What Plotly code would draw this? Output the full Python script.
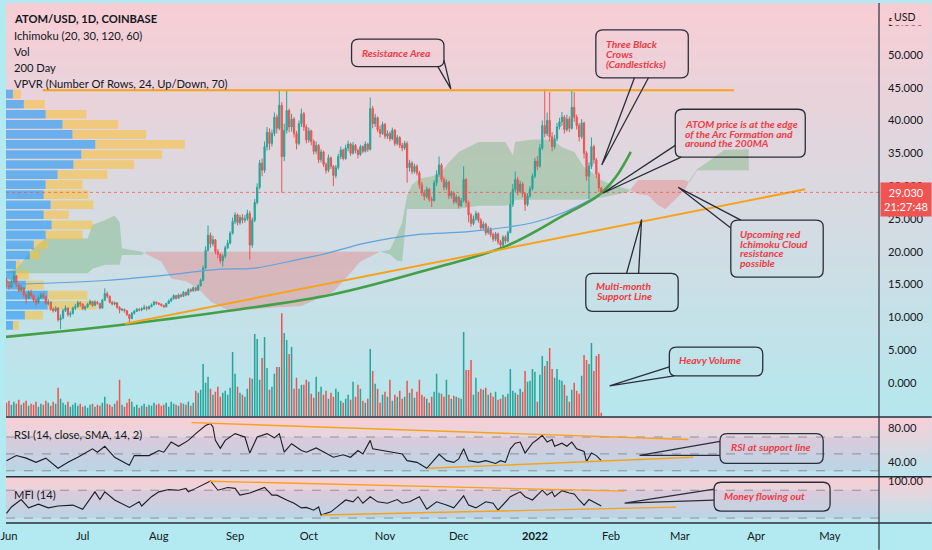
import pandas as pd
import plotly.graph_objects as go

# ---------------- data ----------------
BASE = pd.Timestamp("2021-06-01")
FIRST_DATE = "2021-05-31"
first_open = 15.6

close = [
    15.2, 14.6, 15.4, 16.3, 15.0, 14.1, 14.5, 13.4, 12.9, 13.8,
    13.3, 12.6, 12.2, 13.0, 13.4, 13.1, 12.1, 12.3, 11.2, 11.0,
    11.4, 9.6, 9.9, 11.0, 11.4, 10.4, 10.6, 11.4, 11.6, 12.2,
    12.0, 11.3, 11.6, 12.0, 12.4, 11.8, 12.3, 12.1, 11.4, 12.6,
    13.6, 13.2, 12.3, 12.0, 12.2, 11.5, 11.1, 11.2, 11.0, 10.4,
    9.8, 10.6, 10.9, 11.2, 11.1, 11.3, 11.5, 11.3, 11.6, 11.9,
    12.3, 12.1, 12.0, 11.8, 11.6, 12.1, 12.5, 12.8, 13.3, 12.9,
    13.4, 13.2, 13.8, 13.4, 14.2, 14.0, 14.5, 14.1, 14.8, 15.6,
    17.5, 20.2, 22.5, 21.2, 21.8, 20.0, 19.6, 18.6, 19.3, 20.6,
    21.3, 22.8, 24.6, 25.6, 24.4, 25.2, 24.8, 25.0, 25.8, 21.0,
    24.8, 27.5, 29.8, 33.5, 32.4, 36.0, 38.2, 36.5, 38.0, 40.5,
    38.8, 42.3, 34.5, 38.5, 41.5, 39.0, 40.2, 38.0, 36.5, 39.5,
    41.0, 39.0, 37.0, 38.4, 36.8, 35.3, 36.2, 34.0, 35.2, 33.3,
    32.4, 34.3, 33.0, 31.6, 32.8, 34.5, 35.5, 34.2, 35.8, 36.4,
    35.0, 36.2, 35.4, 34.8, 36.0, 35.3, 36.4, 35.6, 41.8, 39.5,
    40.4, 38.6, 38.0, 39.4, 37.6, 38.0, 37.2, 38.5, 36.5, 37.4,
    36.2, 35.8, 36.5, 32.8, 33.5, 32.2, 33.0, 32.0, 30.2, 29.0,
    28.4, 29.5, 28.0, 27.8, 30.5, 31.8, 33.2, 31.0, 29.8, 30.6,
    28.5, 28.9, 27.6, 28.3, 27.0, 27.8, 31.0, 27.5, 25.6, 24.3,
    25.0, 25.8, 24.8, 23.6, 24.2, 22.9, 23.5, 22.6, 21.9, 22.7,
    21.5, 21.0, 22.2, 21.6, 22.9, 27.2, 29.5, 31.0, 29.2, 30.3,
    28.8, 27.2, 28.5, 29.6, 31.5, 33.8, 33.0, 35.8, 39.2, 38.0,
    40.0, 37.5, 36.0, 37.2, 39.0, 39.8, 40.5, 38.6, 40.2, 38.8,
    42.0, 40.5, 39.2, 37.5, 39.6, 35.0, 31.5, 33.0, 36.0, 34.0,
    31.8, 29.7, 29.03,
]
high = [
    16.0, 15.5, 15.8, 17.0, 16.4, 15.2, 14.9, 14.6, 13.6, 14.1,
    14.2, 13.5, 12.8, 13.2, 13.7, 13.8, 13.3, 12.7, 12.4, 11.5,
    11.7, 11.5, 10.4, 11.3, 11.8, 11.5, 10.9, 11.6, 12.0, 12.5,
    12.4, 12.1, 11.8, 12.2, 12.7, 12.5, 12.6, 12.5, 12.2, 12.8,
    14.4, 13.9, 13.3, 12.5, 12.4, 12.3, 11.7, 11.4, 11.3, 11.1,
    10.5, 10.8, 11.1, 11.4, 11.4, 11.5, 11.9, 11.7, 11.8, 12.1,
    12.5, 12.4, 12.3, 12.1, 11.9, 12.2, 12.7, 13.0, 13.5, 13.4,
    13.6, 13.6, 14.0, 13.9, 14.4, 14.4, 14.7, 14.6, 15.0, 15.9,
    17.9, 20.8, 24.0, 22.9, 22.4, 21.9, 20.4, 19.8, 19.6, 20.9,
    21.8, 23.1, 25.2, 26.0, 25.8, 25.6, 25.7, 25.6, 26.4, 26.2,
    25.2, 28.0, 30.4, 34.0, 34.2, 36.8, 39.0, 38.8, 38.6, 41.2,
    40.9, 44.7, 42.8, 39.5, 44.5, 41.8, 41.0, 40.5, 38.4, 40.0,
    41.8, 41.3, 39.4, 38.9, 38.6, 37.1, 36.8, 36.4, 35.6, 35.4,
    33.6, 34.8, 34.5, 33.2, 33.2, 34.9, 36.0, 35.7, 36.3, 36.9,
    36.6, 36.7, 36.4, 35.7, 36.3, 36.2, 36.8, 36.6, 43.5, 42.2,
    41.0, 40.6, 39.2, 39.8, 39.6, 38.5, 38.3, 38.9, 38.7, 37.8,
    37.6, 36.6, 36.9, 36.8, 34.0, 33.8, 33.4, 33.3, 32.3, 30.6,
    29.4, 29.9, 29.7, 28.4, 30.9, 32.4, 34.5, 33.5, 31.4, 31.0,
    30.8, 29.3, 29.2, 28.7, 28.5, 28.2, 33.0, 31.2, 27.8, 25.9,
    25.5, 26.2, 26.0, 25.1, 24.6, 24.4, 23.9, 23.7, 22.9, 23.0,
    22.9, 21.8, 22.5, 22.5, 23.2, 29.0, 30.3, 32.2, 31.4, 30.8,
    30.6, 29.1, 28.9, 30.0, 31.9, 34.3, 34.6, 36.4, 40.0, 44.7,
    41.2, 44.3, 38.2, 37.8, 39.6, 40.4, 41.3, 40.8, 40.9, 40.6,
    44.5, 44.3, 40.9, 39.6, 40.2, 39.8, 35.3, 33.6, 37.4, 36.3,
    34.3, 32.1, 29.9,
]
low = [
    14.6, 14.2, 14.4, 15.2, 14.6, 13.8, 13.9, 13.1, 12.1, 12.8,
    13.0, 12.3, 11.8, 12.0, 12.8, 12.9, 11.9, 11.8, 11.0, 10.7,
    10.8, 9.3, 8.2, 9.7, 10.8, 10.1, 10.0, 10.4, 11.1, 11.5,
    11.6, 11.1, 11.0, 11.4, 11.9, 11.6, 11.7, 11.9, 11.2, 11.3,
    12.5, 12.9, 12.1, 11.8, 11.8, 11.3, 10.6, 10.9, 10.7, 10.2,
    9.0, 9.7, 10.4, 10.8, 10.9, 10.9, 11.1, 11.0, 11.2, 11.5,
    11.8, 11.9, 11.8, 11.6, 11.4, 11.5, 12.0, 12.3, 12.7, 12.7,
    12.8, 13.0, 13.1, 13.2, 13.3, 13.8, 13.9, 13.9, 14.0, 14.7,
    15.5, 17.3, 20.0, 20.6, 20.8, 19.6, 19.0, 18.2, 17.7, 19.0,
    20.4, 21.1, 22.6, 24.2, 24.0, 24.1, 24.3, 24.4, 24.7, 18.8,
    20.6, 24.5, 27.2, 29.5, 31.5, 32.0, 35.4, 35.5, 36.0, 37.6,
    38.0, 38.5, 29.0, 33.8, 38.0, 38.2, 38.3, 37.4, 35.6, 36.2,
    39.0, 38.4, 36.5, 36.6, 36.2, 34.8, 34.9, 33.5, 33.6, 32.9,
    31.9, 32.1, 32.6, 30.0, 31.2, 32.5, 34.1, 33.9, 34.0, 35.3,
    34.6, 34.8, 35.0, 34.2, 34.6, 35.0, 35.1, 35.2, 35.4, 38.8,
    39.0, 38.2, 37.4, 37.8, 37.2, 37.2, 36.8, 37.0, 36.1, 36.2,
    35.8, 35.3, 35.5, 30.5, 32.2, 31.8, 31.9, 31.6, 29.6, 28.5,
    27.8, 28.1, 27.6, 26.8, 27.6, 30.0, 31.4, 30.6, 29.3, 29.4,
    28.0, 28.1, 27.2, 27.3, 26.6, 26.8, 27.5, 26.8, 24.5, 23.8,
    24.0, 24.7, 24.4, 23.3, 23.2, 22.5, 22.6, 22.2, 21.5, 21.6,
    21.1, 20.4, 20.8, 21.2, 21.4, 22.8, 26.8, 29.0, 28.6, 28.9,
    28.3, 26.2, 26.9, 28.2, 29.3, 31.2, 32.4, 32.8, 35.5, 37.4,
    37.6, 36.8, 35.3, 35.6, 36.8, 38.6, 39.2, 38.0, 38.3, 38.2,
    38.6, 39.8, 38.6, 36.8, 37.2, 34.2, 30.8, 28.0, 32.6, 33.4,
    31.2, 29.1, 28.7,
]
volume = [
    14, 16, 12, 15, 13, 17, 12, 14, 16, 11, 13,
    12, 15, 10, 13, 12, 16, 14, 11, 15, 13, 29,
    18, 14, 12, 15, 10, 12, 14, 11, 13, 10,
    11, 9, 12, 13, 10, 12, 11, 14, 20, 13,
    12, 10, 13, 16, 37, 12, 10, 14, 18, 15,
    10, 12, 9, 11, 13, 10, 12, 11, 14, 12,
    13, 11, 12, 14, 10, 15, 13, 12, 11, 14,
    13, 12, 15, 11, 14, 26, 24, 27, 53, 34, 40,
    28, 22, 25, 30, 20, 24, 26, 22, 29, 65, 43,
    30, 24, 22, 20, 28, 39, 38,
    83, 78, 37, 59, 80, 49, 27, 30, 43, 50, 50,
    104, 84, 77, 63, 70, 28, 39, 28, 32, 32, 37, 35, 23, 19, 40, 25, 30,
    22, 26, 18, 24, 20, 28, 25, 16, 14, 18, 22, 17, 35,
    20, 32, 28, 16, 14, 18, 68, 46, 33, 28,
    14, 22, 25, 20, 37, 16, 22, 20, 26, 18,
    20, 36, 24, 28, 19, 25, 37, 22, 20, 18,
    14, 20, 25, 43, 24, 23, 20, 37, 22, 18,
    21, 20, 19, 18, 85, 47, 47, 57, 22, 39,
    25, 28, 27, 29, 22, 24, 20, 25, 17, 18,
    22, 20, 23, 48, 26, 24, 22, 28, 25, 46,
    35, 36, 48, 45, 15, 42, 61, 51, 56, 69,
    48, 39, 48, 37, 36, 32, 21, 15, 27, 34,
    26, 23, 41, 62, 57, 53, 74, 46, 61, 63, 4,
]

# Ichimoku cloud (leading spans, day offsets from 2021-06-01)
ichi_day = [-1, 3, 10, 15, 32, 34, 39, 43, 45, 46, 54, 56, 62, 66, 72, 77, 82, 90, 105, 119,
            132, 137, 143, 151, 155, 158, 160, 162, 164, 167, 171, 175, 179, 183, 191, 202, 205, 206, 213, 221,
            225, 230, 234, 238, 241, 245, 252, 256, 260, 264, 267, 271, 275, 277, 280, 284, 291, 301]
span_a = [17.0, 17.4, 20.5, 22.0, 22.0, 24.1, 24.8, 25.5, 24.5, 20.5, 20.0, 19.6, 18.5, 15.9, 15.5, 14.4, 12.4, 10.9, 11.4, 11.7,
          13.9, 15.9, 18.5, 20.0, 20.3, 22.6, 24.5, 28.5, 30.2, 31.1, 31.4, 31.7, 33.6, 35.2, 36.7, 36.7, 34.7, 36.7, 37.1, 37.1,
          35.9, 35.2, 32.9, 31.8, 30.9, 30.2, 29.5, 28.8, 28.6, 27.1, 26.5, 27.9, 29.4, 30.9, 32.6, 33.6, 35.5, 35.6]
span_b = [16.7, 16.7, 16.7, 16.7, 16.7, 17.4, 18.0, 18.0, 18.0, 19.5, 19.5, 20.0, 20.0, 20.0, 20.0, 20.0, 20.0, 20.0, 20.0, 20.0,
          20.0, 20.0, 20.0, 20.0, 19.6, 18.6, 18.5, 26.5, 26.5, 26.5, 26.5, 26.5, 26.5, 26.5, 27.0, 27.0, 27.3, 27.9, 27.9, 27.9,
          27.9, 27.9, 27.9, 28.2, 28.2, 28.5, 29.1, 30.9, 30.9, 30.9, 30.9, 30.9, 30.9, 30.6, 32.4, 32.4, 32.4, 32.4]

# 200-day moving average
ma_day = [-1, 39, 66, 85, 100, 119, 128, 145, 166, 186, 204, 213, 226, 241]
ma_val = [15.0, 15.6, 16.5, 17.3, 17.5, 18.9, 19.6, 21.3, 22.6, 23.0, 23.8, 24.4, 26.0, 28.8]

# RSI and MFI
rsi_day = [-1, 3, 7, 11, 15, 20, 24, 28, 34, 36, 39, 43, 49, 51, 57, 61, 63, 66, 69, 73,
           76, 80, 82, 83, 84, 86, 88, 92, 96, 98, 101, 105, 108, 110, 112, 115, 119, 121, 125, 128,
           132, 136, 139, 142, 144, 147, 148, 152, 156, 160, 162, 166, 168, 170, 175, 178, 181, 183, 185, 187,
           191, 194, 198, 200, 202, 204, 206, 208, 210, 213, 215, 217, 219, 221, 222, 225, 227, 229, 231, 234,
           235, 237, 239, 241]
rsi_val = [42, 48, 45, 40, 45, 33, 40, 46, 56, 52, 59, 46, 36.5, 48, 48, 54, 52, 64, 59, 66,
           74, 83.5, 86, 82, 66, 56.5, 66, 74, 70, 51, 70, 74, 69, 74, 52, 62, 54, 52, 57, 52,
           46, 49, 46, 54, 50, 66, 56, 54, 52, 50, 42, 40, 36.5, 33, 49.5, 42, 40, 44, 56, 42,
           40, 42, 38.7, 42, 40, 56, 62.7, 64, 51, 62.7, 67, 72, 64, 67, 59, 62.7, 59, 64, 56, 53,
           41, 51, 48, 42]
mfi_day = [-1, 1, 5, 8, 12, 16, 20, 26, 30, 35, 37, 39, 43, 49, 53, 54, 58, 61, 65, 69,
           72, 73, 76, 80, 82, 85, 89, 92, 94, 98, 101, 104, 107, 109, 113, 116, 119, 121, 124, 126,
           127, 131, 133, 137, 140, 142, 144, 147, 150, 154, 158, 160, 163, 167, 170, 174, 178, 181, 183, 185,
           187, 190, 194, 197, 199, 201, 204, 208, 210, 213, 215, 217, 219, 221, 222, 225, 228, 230, 232, 234,
           236, 238, 241]
mfi_val = [30, 44, 60, 42, 50, 42, 46, 48, 39, 76.5, 60, 76.5, 59, 43, 55, 46, 66, 76.5, 81.5, 80,
           84, 76.5, 84, 94.4, 100, 80, 86, 84, 69.4, 74, 80, 86, 69.4, 69.4, 59, 52, 42, 43, 37, 44,
           26.6, 33.5, 42, 59, 55, 66, 52, 66, 55, 52, 60, 52, 55, 66, 39, 55, 48, 42, 55, 68,
           48, 42, 55, 52, 37, 48, 66, 76.5, 66, 59, 69.4, 80, 69.4, 76.5, 66, 79, 74, 72, 59, 48,
           60, 55, 46]

# Volume profile (24 rows, highest price row first)
vp_high = 44.77
vp_low = 8.0
vp_up = [7, 18, 40, 57, 67, 90, 76, 68, 52, 40, 38, 45, 38, 46, 40, 28, 24, 10, 10, 20, 42, 42, 19, 7]
vp_down = [8, 21, 41, 56, 74, 90, 81, 61, 50, 37, 45, 43, 25, 41, 37, 14, 10, 5, 13, 18, 40, 49, 18, 6]

# drawn lines (day offset, value)
arc_day = [-1.2, 23, 47, 92, 132, 172, 202, 226, 240, 247, 253]
arc_val = [7.0, 7.9, 8.9, 11.1, 13.5, 17.4, 20.8, 25.6, 28.6, 31.4, 35.2]
support_day = [47.3, 324]
support_val = [9.0, 29.5]
resist_day = [13.7, 295]
resist_val = [44.6, 44.6]
rsi_up_day, rsi_up_val = [74.3, 276.4], [87, 67]
rsi_lo_day, rsi_lo_val = [170.5, 278.4], [33, 46]
mfi_up_day, mfi_up_val = [81.6, 250.5], [99.4, 78]
mfi_lo_day, mfi_lo_val = [127.3, 271.5], [26.6, 43.7]

last_price = 29.03
countdown = "21:27:48"

month_starts = pd.date_range("2021-06-01", "2022-05-01", freq="MS")

# ---------------- style / layout ----------------
FONT = "Lato, sans-serif"
TXT = "#131722"
UP = "#26a69a"
DOWN = "#ef5350"
ORANGE = "#f7a21b"
NOTE_RED = "#ee3b45"
BORDER = "#2a2e39"

W, H = 932, 550
MR, MB = 53, 27
PW, PH = W - MR, H - MB
X_RANGE = [-1.2, 354.0]
Y_MAIN = [-5.15, 57.9]
Y_RSI = [23.53, 92.94]
Y_MFI = [9.42, 107.92]
MAIN_PX = (0, 416)
RSI_PX = (417, 476)
MFI_PX = (477, PH)
TOP_RGB = (248, 205, 213)


def pp(py):
    return 1 - py / PH


dom_main = [pp(MAIN_PX[1]), pp(MAIN_PX[0])]
dom_rsi = [pp(RSI_PX[1]), pp(RSI_PX[0])]
dom_mfi = [pp(MFI_PX[1]), pp(MFI_PX[0])]
day_px = PW / (X_RANGE[1] - X_RANGE[0])
unit_px = {
    "y": (MAIN_PX[1] - MAIN_PX[0]) / (Y_MAIN[1] - Y_MAIN[0]),
    "y3": (RSI_PX[1] - RSI_PX[0]) / (Y_RSI[1] - Y_RSI[0]),
    "y4": (MFI_PX[1] - MFI_PX[0]) / (Y_MFI[1] - Y_MFI[0]),
}

dates = pd.date_range(FIRST_DATE, periods=len(close), freq="D")
xd = [(d - BASE).days for d in dates]
opens = [first_open] + close[:-1]
vol_colors = [UP if c >= o else DOWN for o, c in zip(opens, close)]

fig = go.Figure()

# volume profile (horizontal bars from left edge)
n_rows = len(vp_up)
row_h = (vp_high - vp_low) / n_rows
row_y = [vp_high - (i + 0.5) * row_h for i in range(n_rows)]
up_len = [v / day_px for v in vp_up]
dn_len = [v / day_px for v in vp_down]
fig.add_trace(go.Bar(y=row_y, x=up_len, base=[X_RANGE[0]] * n_rows, orientation="h",
                     width=row_h * 0.86, marker=dict(color="rgba(33,150,243,0.62)", line=dict(width=0)),
                     xaxis="x", yaxis="y"))
fig.add_trace(go.Bar(y=row_y, x=dn_len, base=[X_RANGE[0] + u for u in up_len], orientation="h",
                     width=row_h * 0.86, marker=dict(color="rgba(251,192,45,0.55)", line=dict(width=0)),
                     xaxis="x", yaxis="y"))

# candles
fig.add_trace(go.Candlestick(
    x=xd, open=opens, high=high, low=low, close=close,
    increasing=dict(line=dict(color=UP, width=1), fillcolor=UP),
    decreasing=dict(line=dict(color=DOWN, width=1), fillcolor=DOWN),
    whiskerwidth=0, xaxis="x", yaxis="y"))

# 200 MA
fig.add_trace(go.Scatter(x=ma_day, y=ma_val, mode="lines", line=dict(color="#5ea3dd", width=1.2, shape="spline"),
                         xaxis="x", yaxis="y"))
# arc, support, resistance
fig.add_trace(go.Scatter(x=arc_day, y=arc_val, mode="lines",
                         line=dict(color="#43a047", width=2.6, shape="spline", smoothing=1.0), xaxis="x", yaxis="y"))
fig.add_trace(go.Scatter(x=support_day, y=support_val, mode="lines", line=dict(color=ORANGE, width=2),
                         xaxis="x", yaxis="y"))
fig.add_trace(go.Scatter(x=resist_day, y=resist_val, mode="lines", line=dict(color=ORANGE, width=2),
                         xaxis="x", yaxis="y"))

# volume
fig.add_trace(go.Bar(x=xd, y=volume, width=0.62, marker=dict(color=vol_colors, line=dict(width=0)),
                     xaxis="x", yaxis="y2"))

# RSI pane
fig.add_trace(go.Scatter(x=rsi_day, y=rsi_val, mode="lines", line=dict(color="#1b1d24", width=1.1),
                         xaxis="x", yaxis="y3"))
fig.add_trace(go.Scatter(x=rsi_up_day, y=rsi_up_val, mode="lines", line=dict(color=ORANGE, width=1.4),
                         xaxis="x", yaxis="y3"))
fig.add_trace(go.Scatter(x=rsi_lo_day, y=rsi_lo_val, mode="lines", line=dict(color=ORANGE, width=1.4),
                         xaxis="x", yaxis="y3"))
# MFI pane
fig.add_trace(go.Scatter(x=mfi_day, y=mfi_val, mode="lines", line=dict(color="#1b1d24", width=1.1),
                         xaxis="x", yaxis="y4"))
fig.add_trace(go.Scatter(x=mfi_up_day, y=mfi_up_val, mode="lines", line=dict(color=ORANGE, width=1.4),
                         xaxis="x", yaxis="y4"))
fig.add_trace(go.Scatter(x=mfi_lo_day, y=mfi_lo_val, mode="lines", line=dict(color=ORANGE, width=1.4),
                         xaxis="x", yaxis="y4"))

shapes = []


# background gradients
def gradient(py0, py1, c_top, c_bot, n):
    step = (py1 - py0) / n
    for i in range(n):
        t = (i + 0.5) / n
        c = tuple(round(c_top[k] + (c_bot[k] - c_top[k]) * t) for k in range(3))
        shapes.append(dict(type="rect", xref="paper", yref="paper", x0=0, x1=W / PW,
                           y0=pp(py0 + (i + 1) * step + 0.6), y1=pp(py0 + i * step),
                           fillcolor="rgb(%d,%d,%d)" % c, line=dict(width=0), layer="below"))


gradient(MAIN_PX[0], MAIN_PX[1], TOP_RGB, (181, 231, 238), 52)
gradient(RSI_PX[0], RSI_PX[1], (250, 206, 213), (186, 228, 237), 10)
gradient(MFI_PX[0], MFI_PX[1], (250, 206, 213), (186, 228, 237), 8)


# Ichimoku cloud polygons
def cloud_shapes():
    xs, aa, bb = [ichi_day[0]], [span_a[0]], [span_b[0]]
    for i in range(1, len(ichi_day)):
        d0, d1 = ichi_day[i - 1], ichi_day[i]
        s0, s1 = span_a[i - 1] - span_b[i - 1], span_a[i] - span_b[i]
        if s0 * s1 < 0:
            t = s0 / (s0 - s1)
            yc = span_a[i - 1] + t * (span_a[i] - span_a[i - 1])
            xs.append(d0 + t * (d1 - d0)); aa.append(yc); bb.append(yc)
        xs.append(d1); aa.append(span_a[i]); bb.append(span_b[i])
    top = [max(a, b) for a, b in zip(aa, bb)]
    for lower, col in ((bb, "rgba(67,160,71,0.28)"), (aa, "rgba(239,83,80,0.28)")):
        pts = list(zip(xs, top)) + list(zip(xs[::-1], lower[::-1]))
        path = "M " + " L ".join("%.3f,%.3f" % p for p in pts) + " Z"
        shapes.append(dict(type="path", xref="x", yref="y", path=path, fillcolor=col,
                           line=dict(width=0), layer="below"))


cloud_shapes()

# RSI / MFI bands and levels
GREY = "rgba(120,123,134,0.75)"
shapes.append(dict(type="rect", xref="paper", yref="y3", x0=0, x1=1, y0=30, y1=70,
                   fillcolor="rgba(126,87,194,0.09)", line=dict(width=0), layer="below"))
shapes.append(dict(type="rect", xref="paper", yref="y4", x0=0, x1=1, y0=20, y1=80,
                   fillcolor="rgba(126,87,194,0.09)", line=dict(width=0), layer="below"))
for yr, lv in (("y3", 70), ("y3", 50), ("y3", 30), ("y4", 80), ("y4", 20)):
    shapes.append(dict(type="line", xref="paper", yref=yr, x0=0, x1=1, y0=lv, y1=lv,
                       line=dict(color=GREY, width=1, dash="dash"), layer="below"))

# last price dotted line
shapes.append(dict(type="line", xref="paper", yref="y", x0=0, x1=1, y0=last_price, y1=last_price,
                   line=dict(color="rgba(239,83,80,0.75)", width=1, dash="dot")))

# pane separators & price-axis line
for py in (MAIN_PX[1] + 0.5, RSI_PX[1] + 0.5, PH):
    shapes.append(dict(type="line", xref="paper", yref="paper", x0=0, x1=W / PW, y0=pp(py), y1=pp(py),
                       line=dict(color=BORDER, width=1.5)))
shapes.append(dict(type="line", xref="paper", yref="paper", x0=1, x1=1, y0=pp(H), y1=1,
                   line=dict(color=BORDER, width=1.2)))

# callouts (data coordinates)
callouts = [
    dict(yref="y", box=(139.4, 177.0, 52.4, 48.2), tx=143.0, lines=[("Resistance Area", 50.3)],
         tail=[(174.5, 48.2), (179.8, 44.8), (177.0, 49.2)]),
    dict(yref="y", box=(238.8, 276.4, 53.8, 46.5), tx=242.0,
         lines=[("Three Black", 51.7), ("Crows", 50.2), ("(Candlesticks)", 48.6)],
         tail=[(254.5, 46.5), (241.2, 33.2), (260.2, 46.5)]),
    dict(yref="y", box=(271.1, 324.0, 41.7, 34.4), tx=274.3,
         lines=[("ATOM price is at the edge", 39.5), ("of the Arc Formation and", 38.0), ("around the 200MA", 36.5)],
         tail=[(271.1, 36.2), (241.6, 28.9), (273.5, 34.4)]),
    dict(yref="y", box=(293.7, 331.3, 24.8, 16.1), tx=296.6,
         lines=[("Upcoming red", 22.7), ("Ichimoku Cloud", 21.2), ("resistance", 19.8), ("possible", 18.3)],
         tail=[(293.7, 23.6), (272.3, 29.8), (297.8, 24.8)]),
    dict(yref="y", box=(234.7, 272.3, 16.7, 10.9), tx=238.0,
         lines=[("Multi-month", 14.7), ("Support Line", 13.2)],
         tail=[(251.3, 16.7), (257.4, 24.9), (256.2, 16.7)]),
    dict(yref="y", box=(268.7, 306.7, 5.45, 1.06), tx=271.9, lines=[("Heavy Volume", 3.48)],
         tail=[(268.7, 2.42), (244.4, -0.45), (270.7, 1.06)]),
    dict(yref="y3", box=(289.3, 331.3, 74.1, 38.8), tx=292.9, lines=[("RSI at support line", 57.6)],
         tail=[(289.3, 64.7), (256.6, 48.2), (289.3, 48.2)]),
    dict(yref="y4", box=(286.9, 334.1, 97.2, 35.1), tx=290.1, lines=[("Money flowing out", 67.2)],
         tail=[(286.9, 82.2), (250.5, 52.3), (286.9, 58.7)]),
]

annotations = []
R_PX = 7
for c in callouts:
    x0, x1, yt, yb = c["box"]
    rx = R_PX / day_px
    ry = R_PX / unit_px[c["yref"]]
    path = ("M %f,%f L %f,%f Q %f,%f %f,%f L %f,%f Q %f,%f %f,%f L %f,%f Q %f,%f %f,%f L %f,%f Q %f,%f %f,%f Z" % (
        x0 + rx, yt, x1 - rx, yt, x1, yt, x1, yt - ry, x1, yb + ry, x1, yb, x1 - rx, yb,
        x0 + rx, yb, x0, yb, x0, yb + ry, x0, yt - ry, x0, yt, x0 + rx, yt))
    shapes.append(dict(type="path", xref="x", yref=c["yref"], path=path,
                       line=dict(color=BORDER, width=1.3), fillcolor="rgba(0,0,0,0)"))
    (bx1, by1), (tx_, ty_), (bx2, by2) = c["tail"]
    shapes.append(dict(type="path", xref="x", yref=c["yref"],
                       path="M %f,%f L %f,%f L %f,%f" % (bx1, by1, tx_, ty_, bx2, by2),
                       line=dict(color=BORDER, width=1.3)))
    for text, ty in c["lines"]:
        annotations.append(dict(x=c["tx"], y=ty, xref="x", yref=c["yref"], xanchor="left", yanchor="middle",
                                text="<b><i>%s</i></b>" % text, showarrow=False,
                                font=dict(family=FONT, size=10.3, color=NOTE_RED)))

# top-left legend texts
legend_lines = [("<b>ATOM/USD, 1D, COINBASE</b>", 16), ("Ichimoku (20, 30, 120, 60)", 33), ("Vol", 49),
                ("200 Day", 65), ("VPVR (Number Of Rows, 24, Up/Down, 70)", 81),
                ("RSI (14, close, SMA, 14, 2)", 434), ("MFI (14)", 494)]
for text, py in legend_lines:
    annotations.append(dict(x=6 / PW, y=pp(py), xref="paper", yref="paper", xanchor="left", yanchor="middle",
                            text=text, showarrow=False, font=dict(family=FONT, size=11.2, color=TXT)))

# currency label (sits over the top tick label, as in the original)
annotations.append(dict(x=891 / PW, y=pp(14), xref="paper", yref="paper", xanchor="left", yanchor="middle",
                        text="USD&nbsp;&nbsp;&nbsp;&nbsp;", showarrow=False, bgcolor="rgb(%d,%d,%d)" % TOP_RGB,
                        borderpad=2, font=dict(family=FONT, size=10.5, color=TXT)))
annotations.append(dict(x=1, y=last_price, xref="paper", yref="y", xanchor="left", yanchor="middle",
                        xshift=1, yshift=-7, text="%.3f<br>%s" % (last_price, countdown), showarrow=False,
                        bgcolor="#f05350", borderpad=3, width=44, align="center",
                        font=dict(family=FONT, size=11, color="white")))

tickvals = [(m - BASE).days for m in month_starts]
ticktext = ["<b>%d</b>" % m.year if m.month == 1 else m.strftime("%b") for m in month_starts]

axis_common = dict(showgrid=False, zeroline=False, showline=False, ticks="", fixedrange=True)
fig.update_layout(
    width=W, height=H, margin=dict(l=0, r=MR, t=0, b=MB, pad=0),
    paper_bgcolor="#b3eaf1", plot_bgcolor="rgba(0,0,0,0)",
    showlegend=False, hovermode=False, barmode="overlay", dragmode=False,
    font=dict(family=FONT, size=11, color=TXT),
    xaxis=dict(range=X_RANGE, domain=[0, 1], anchor="y4", tickvals=tickvals, ticktext=ticktext,
               tickfont=dict(size=11.2), ticklabeloverflow="allow", ticklabelstandoff=5,
               rangeslider=dict(visible=False), **axis_common),
    yaxis=dict(domain=dom_main, range=Y_MAIN, side="right", anchor="x", tickvals=list(range(0, 60, 5)),
               tickformat=".3f", ticklabelstandoff=8, tickfont=dict(size=11.2), **axis_common),
    yaxis2=dict(overlaying="y", range=[0, 416], visible=False, fixedrange=True),
    yaxis3=dict(domain=dom_rsi, range=Y_RSI, side="right", anchor="x", tickvals=[40, 80],
                tickformat=".2f", ticklabelstandoff=8, tickfont=dict(size=11.2), **axis_common),
    yaxis4=dict(domain=dom_mfi, range=Y_MFI, side="right", anchor="x", tickvals=[100],
                tickformat=".2f", ticklabelstandoff=8, tickfont=dict(size=11.2), **axis_common),
    shapes=shapes, annotations=annotations,
)

fig.write_html("out.html", config=dict(displayModeBar=False, staticPlot=True),
               post_script="document.body.style.margin='0px';document.body.style.overflow='hidden';")
